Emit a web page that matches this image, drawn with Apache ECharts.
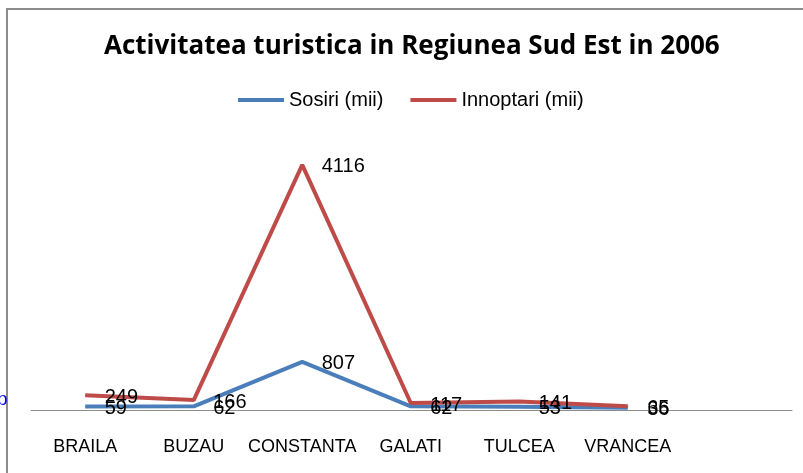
<!DOCTYPE html>
<html>
<head>
<meta charset="UTF-8">
<title></title>
<style>
	html,body{margin:0;padding:0;background:#fff}
	#chart{width:803px;height:473px}
</style>
</head>
<body>
<div id="chart"></div>
<script src="https://cdn.jsdelivr.net/npm/echarts@6/dist/echarts.min.js"></script>
<script>
var judete = ['BRAILA', 'BUZAU', 'CONSTANTA', 'GALATI', 'TULCEA', 'VRANCEA'];
var sosiri = [59, 62, 807, 62, 53, 36];
var innoptari = [249, 166, 4116, 117, 141, 65];

var chart = echarts.init(document.getElementById('chart'));

// eticheta de date, in dreapta punctului
var eticheta = {
	show: true,
	position: 'right',
	distance: 19,
	offset: [0, 2],
	color: '#000',
	fontFamily: 'Liberation Sans',
	fontSize: 20
};

var option = {
	animation: false,
	backgroundColor: '#fff',
	title: {
		text: 'Activitatea turistica in Regiunea Sud Est in 2006',
		left: 99,
		top: 29,
		textStyle: {
			fontFamily: 'Open Sans',
			fontWeight: 'bold',
			fontSize: 26,
			color: '#000'
		}
	},
	legend: {
		top: 85,
		left: 233,
		itemWidth: 46,
		itemHeight: 4,
		itemGap: 27,
		icon: 'rect',
		textStyle: {
			fontFamily: 'Liberation Sans',
			fontSize: 20,
			color: '#000'
		},
		data: ['Sosiri (mii)', 'Innoptari (mii)']
	},
	graphic: [
		{
			type: 'rect',
			shape: { x: 7, y: 9, width: 900, height: 600 },
			style: { fill: null, stroke: '#8c8c8c', lineWidth: 2 },
			z: -1
		},
		{
			type: 'text',
			left: -3,
			top: 390,
			style: { text: 'p', fill: '#0000ff', font: '19px Liberation Sans' }
		}
	],
	grid: [
		{ left: 31, right: 121, top: 142, bottom: 63 },
		{ left: 31, right: 11, top: 142, bottom: 63 }
	],
	xAxis: [
		{
			type: 'category',
			gridIndex: 0,
			data: judete,
			boundaryGap: true,
			axisLine: { show: false },
			axisTick: { show: false },
			axisLabel: {
				interval: 0,
				margin: 28,
				color: '#000',
				fontFamily: 'Liberation Sans',
				fontSize: 18
			}
		},
		{
			type: 'value',
			gridIndex: 1,
			axisLine: { show: true, onZero: false, lineStyle: { color: '#8c8c8c', width: 1 } },
			axisTick: { show: false },
			axisLabel: { show: false },
			splitLine: { show: false }
		}
	],
	yAxis: [
		{
			type: 'value',
			gridIndex: 0,
			min: 0,
			max: 4500,
			show: false
		},
		{
			type: 'value',
			gridIndex: 1,
			show: false
		}
	],
	series: [
		{
			name: 'Sosiri (mii)',
			type: 'line',
			data: sosiri,
			showSymbol: true,
			symbol: 'circle',
			symbolSize: 1,
			lineStyle: { color: '#4a7ebb', width: 4 },
			itemStyle: { color: '#4a7ebb' },
			label: eticheta
		},
		{
			name: 'Innoptari (mii)',
			type: 'line',
			data: innoptari,
			showSymbol: true,
			symbol: 'circle',
			symbolSize: 1,
			lineStyle: { color: '#be4b48', width: 4 },
			itemStyle: { color: '#be4b48' },
			label: eticheta
		}
	]
};

chart.setOption(option);
</script>
</body>
</html>
